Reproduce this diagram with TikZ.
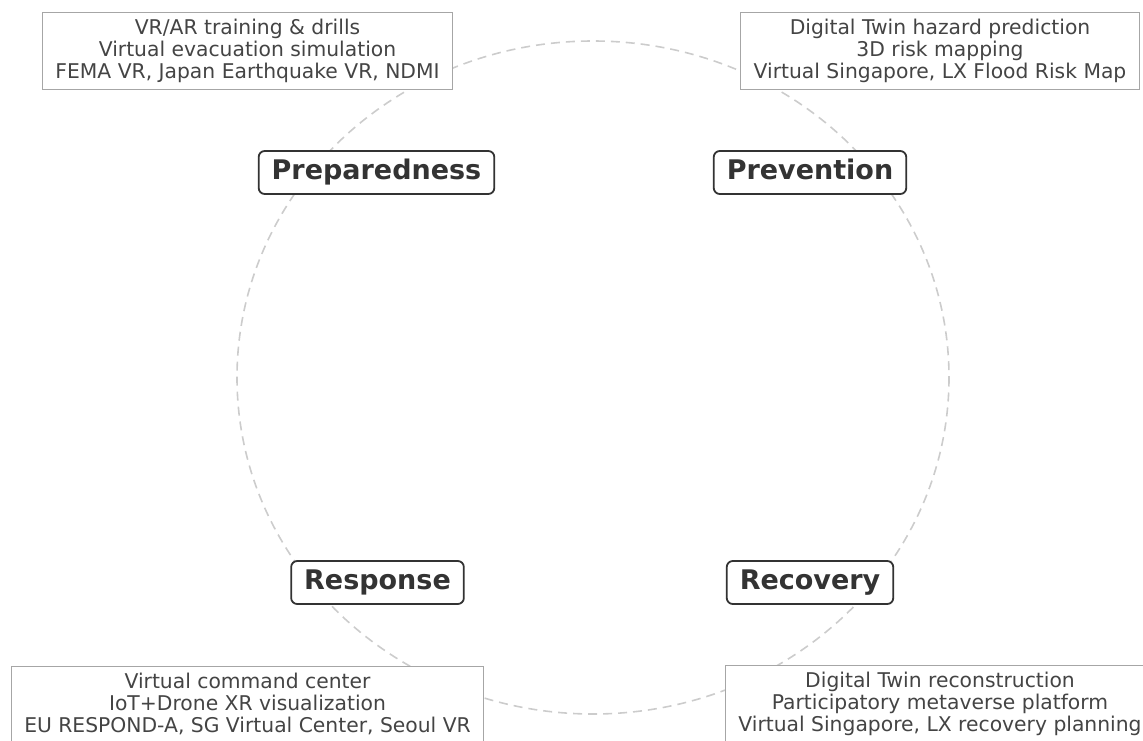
\documentclass[tikz,border=0pt]{standalone}
\usepackage{fontspec}
\setmainfont{DejaVu Sans}
\usetikzlibrary{positioning}

\definecolor{ringgray}{HTML}{CCCCCC}
\definecolor{boxgray}{HTML}{A6A6A6}
\definecolor{textgray}{HTML}{444444}
\definecolor{phasegray}{HTML}{333333}

\begin{document}
\begin{tikzpicture}[x=1pt,y=-1pt,
		phase/.style={draw=phasegray,line width=1.8pt,rounded corners=6pt,fill=white,
			text=phasegray,font=\fontsize{27}{30}\selectfont\bfseries,
			text height=20pt,text depth=6pt,inner xsep=13pt,inner ysep=8.5pt},
		info/.style={draw=boxgray,line width=1.2pt,fill=white,text=textgray,align=center,
			font=\fontsize{20.3}{21.8}\selectfont,inner xsep=13pt,inner ysep=7pt}]
	\useasboundingbox (0,0) rectangle (1143,740);
	% dashed cycle behind everything
	\draw[ringgray,line width=1.6pt,dash pattern=on 9pt off 6pt] (593,377.5) ellipse [x radius=356,y radius=336.5];
	% the four phases
	\node[phase] (prep) at (376.5,172.5) {Preparedness};
	\node[phase] (prev) at (810,172.5) {Prevention};
	\node[phase] (resp) at (377.5,582.5) {Response};
	\node[phase] (reco) at (810,582.5) {Recovery};
	% examples for each phase
	\node[info] (prepinfo) at (247.5,51) {VR/AR training \& drills\\Virtual evacuation simulation\\FEMA VR, Japan Earthquake VR, NDMI};
	\node[info] (previnfo) at (940,51) {Digital Twin hazard prediction\\3D risk mapping\\Virtual Singapore, LX Flood Risk Map};
	\node[info] (respinfo) at (247.5,704) {Virtual command center\\IoT+Drone XR visualization\\EU RESPOND-A, SG Virtual Center, Seoul VR};
	\node[info] (recoinfo) at (940,704) {Digital Twin reconstruction\\Participatory metaverse platform\\Virtual Singapore, LX recovery planning};
\end{tikzpicture}
\end{document}
